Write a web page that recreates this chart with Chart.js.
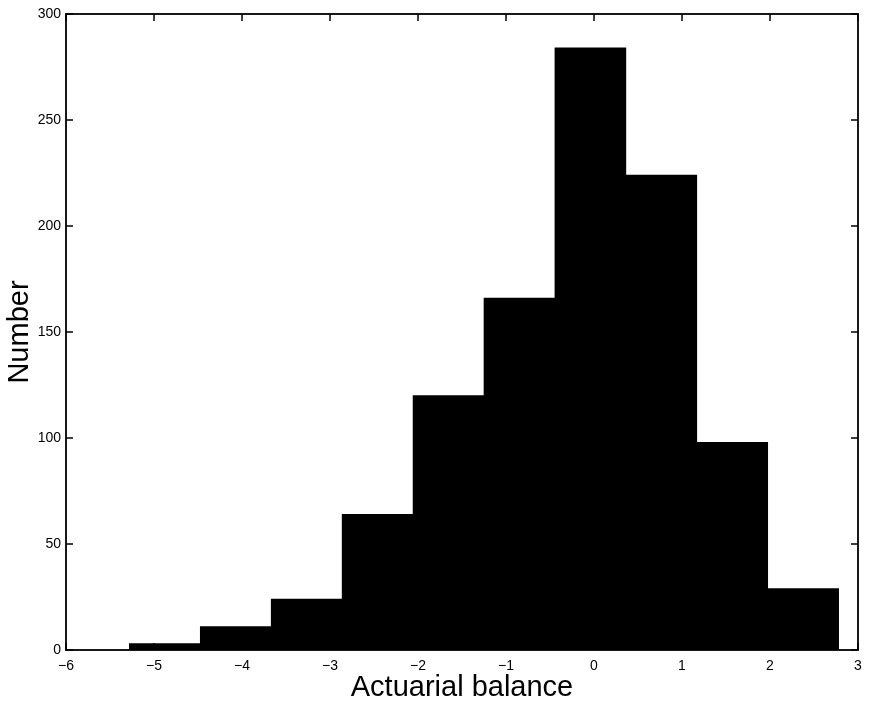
<!DOCTYPE html>
<html>
<head>
<meta charset="utf-8">
<script src="https://cdn.jsdelivr.net/npm/chart.js@4/dist/chart.umd.min.js"></script>
<style>
  html, body { margin: 0; padding: 0; background: #fff; }
  #wrap { width: 871px; height: 704px; position: relative; }
</style>
</head>
<body>
<div id="wrap"><canvas id="c" width="871" height="704"></canvas></div>
<script>
// Histogram bin centres (Actuarial balance) and counts
const binCenters = [-4.877, -4.071, -3.265, -2.459, -1.653, -0.847, -0.041, 0.765, 1.571, 2.377];
const counts     = [3, 11, 24, 64, 120, 166, 284, 224, 98, 29];
const xTicks = [-6, -5, -4, -3, -2, -1, 0, 1, 2, 3];
const yTicks = [0, 50, 100, 150, 200, 250, 300];
const xTitle = 'Actuarial balance';
const yTitle = 'Number';

const FONT = "'Liberation Sans', Arial, Helvetica, sans-serif";

const boxAndTicks = {
  id: 'boxAndTicks',
  afterDraw(chart) {
    const {ctx, chartArea: a, scales} = chart;
    ctx.save();
    ctx.strokeStyle = '#000';
    ctx.lineWidth = 1.8;
    ctx.strokeRect(a.left, a.top, a.right - a.left, a.bottom - a.top);
    ctx.lineWidth = 1.5;
    const L = 7;
    ctx.beginPath();
    xTicks.forEach(v => {
      const px = scales.x.getPixelForValue(v);
      ctx.moveTo(px, a.bottom); ctx.lineTo(px, a.bottom - L);
      ctx.moveTo(px, a.top); ctx.lineTo(px, a.top + L);
    });
    yTicks.forEach(v => {
      const py = scales.y.getPixelForValue(v);
      ctx.moveTo(a.left, py); ctx.lineTo(a.left + L, py);
      ctx.moveTo(a.right, py); ctx.lineTo(a.right - L, py);
    });
    ctx.stroke();
    ctx.restore();
  }
};

new Chart(document.getElementById('c'), {
  type: 'bar',
  data: {
    datasets: [{
      data: binCenters.map((x, i) => ({x: x, y: counts[i]})),
      backgroundColor: '#000',
      borderColor: '#000',
      borderWidth: 0,
      barPercentage: 1,
      categoryPercentage: 1
    }]
  },
  options: {
    responsive: false,
    animation: false,
    layout: { padding: { top: 14, right: 13, left: 0, bottom: 0 } },
    plugins: { legend: { display: false }, tooltip: { enabled: false } },
    scales: {
      x: {
        type: 'linear',
        min: -6, max: 3,
        offset: false,
        afterFit(s) { s.height = 54; },
        afterBuildTicks(s) { s.ticks = xTicks.map(v => ({value: v})); },
        grid: { display: false, drawTicks: false },
        border: { display: false },
        ticks: {
          padding: 8,
          color: '#000',
          font: { family: FONT, size: 14 },
          callback: v => String(v).replace('-', '\u2212')
        },
        title: {
          display: true, text: xTitle, color: '#000',
          font: { family: FONT, size: 29, lineHeight: 1 },
          padding: { top: 0, bottom: 2 }
        }
      },
      y: {
        min: 0, max: 300,
        afterFit(s) { s.width = 66; },
        afterBuildTicks(s) { s.ticks = yTicks.map(v => ({value: v})); },
        grid: { display: false, drawTicks: false },
        border: { display: false },
        ticks: {
          padding: 5,
          color: '#000',
          font: { family: FONT, size: 14 }
        },
        title: {
          display: true, text: yTitle, color: '#000',
          font: { family: FONT, size: 29, lineHeight: 1 },
          padding: { top: 5, bottom: 0 }
        }
      }
    }
  },
  plugins: [boxAndTicks]
});
</script>
</body>
</html>
